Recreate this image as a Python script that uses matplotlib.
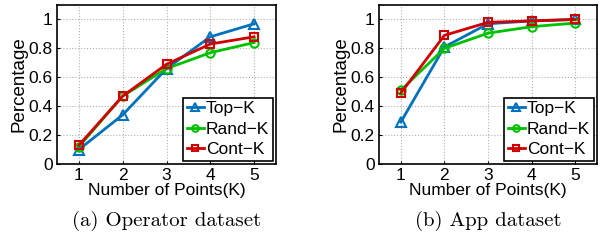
import matplotlib
matplotlib.use("Agg")
import matplotlib.pyplot as plt

# K values on the x axis
points = [1, 2, 3, 4, 5]

# Operator dataset
op_top = [0.10, 0.34, 0.66, 0.88, 0.97]
op_rand = [0.12, 0.47, 0.66, 0.77, 0.84]
op_cont = [0.13, 0.47, 0.69, 0.83, 0.88]

# App dataset
app_top = [0.29, 0.81, 0.97, 0.99, 1.00]
app_rand = [0.51, 0.80, 0.905, 0.95, 0.975]
app_cont = [0.49, 0.89, 0.98, 0.99, 1.00]

captions = ["(a) Operator dataset", "(b) App dataset"]
yticks = [0, 0.2, 0.4, 0.6, 0.8, 1]
ytick_labels = ["0", "0.2", "0.4", "0.6", "0.8", "1"]

plt.rcParams["font.family"] = ["Liberation Sans", "DejaVu Sans"]

fig = plt.figure(figsize=(6.0, 2.43), dpi=100)
boxes = [[57 / 600, 79 / 243, 219 / 600, 159 / 243],
         [379 / 600, 79 / 243, 218 / 600, 159 / 243]]
datasets = [(op_top, op_rand, op_cont), (app_top, app_rand, app_cont)]

for box, (top, rand, cont), cap in zip(boxes, datasets, captions):
    ax = fig.add_axes(box)
    ax.plot(points, top, color="#0072BD", marker="^", markersize=7,
            markerfacecolor="none", markeredgewidth=1.5, lw=2, label="Top\u2212K")
    ax.plot(points, rand, color="#00C000", marker="o", markersize=6,
            markerfacecolor="none", markeredgewidth=1.5, lw=2, label="Rand\u2212K")
    ax.plot(points, cont, color="#D00000", marker="s", markersize=5.5,
            markerfacecolor="none", markeredgewidth=1.5, lw=2, label="Cont\u2212K")
    ax.set_xlim(0.5, 5.5)
    ax.set_ylim(0, 1.1)
    ax.set_xticks(points)
    ax.set_yticks(yticks)
    ax.set_yticklabels(ytick_labels)
    ax.tick_params(labelsize=12.5, length=2, direction="in", pad=3)
    ax.grid(True, color="#b0b0b0", linestyle=":", linewidth=0.8)
    for s in ax.spines.values():
        s.set_linewidth(1.2)
    ax.set_xlabel("Number of Points(K)", fontsize=12.5, labelpad=0)
    ax.set_ylabel("Percentage", fontsize=13.5, labelpad=1)
    leg = ax.legend(loc="lower right", fontsize=12.5, handlelength=1.0,
                    handletextpad=0.1, borderpad=0.2, labelspacing=0.3,
                    fancybox=False, framealpha=1, borderaxespad=0.2,
                    markerscale=0.8)
    leg.get_frame().set_edgecolor("black")
    leg.get_frame().set_linewidth(1.2)
    ax.text(0.5, -0.355, cap, transform=ax.transAxes, ha="center", va="center",
            fontsize=15, family="cmr10")

fig.savefig("out.png", dpi=100)
